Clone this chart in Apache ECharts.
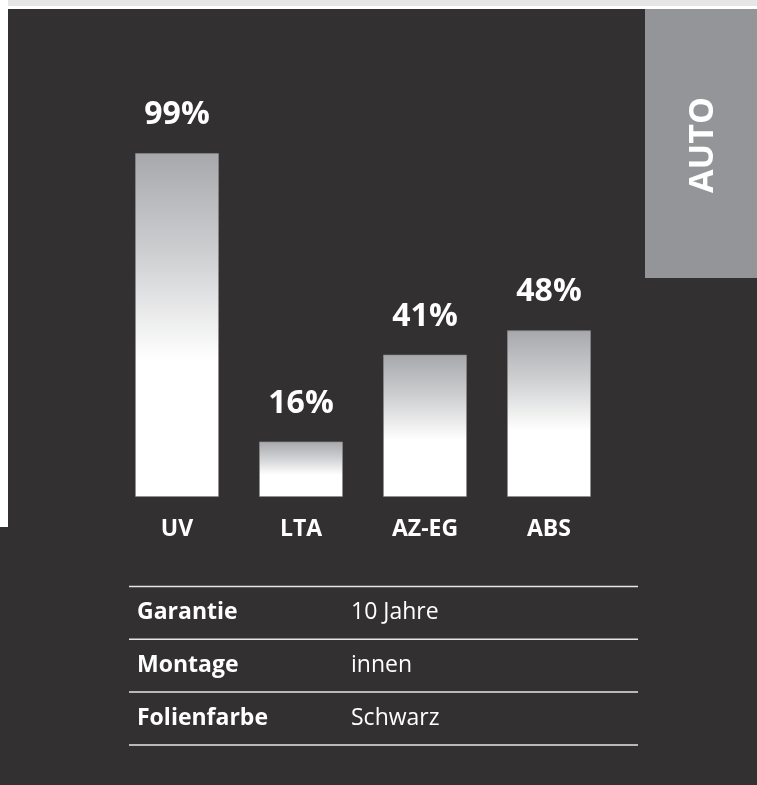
<!DOCTYPE html>
<html>
<head>
<meta charset="utf-8">
<script src="https://cdn.jsdelivr.net/npm/echarts@6/dist/echarts.min.js"></script>
<style>
html,body{margin:0;padding:0;background:#323031;}
#chart{width:757px;height:785px;}
</style>
</head>
<body>
<div id="chart"></div>
<script>
const categories = ['UV', 'LTA', 'AZ-EG', 'ABS'];
const values = [99, 16, 41, 48];
const sideLabel = 'AUTO';
const tableKeys = ['Garantie', 'Montage', 'Folienfarbe'];
const tableValues = ['10 Jahre', 'innen', 'Schwarz'];

const FONT = '"Open Sans", "DejaVu Sans", sans-serif';
const chart = echarts.init(document.getElementById('chart'), null, {renderer: 'canvas'});

// table graphics built from arrays
const tableTop = 586.5, rowH = 52.8, tableX0 = 129, tableX1 = 638;
const tableGraphics = [];
for (let i = 0; i <= tableKeys.length; i++) {
  tableGraphics.push({
    type: 'rect', silent: true,
    shape: {x: tableX0, y: tableTop + i * rowH - 0.75, width: tableX1 - tableX0, height: 1.5},
    style: {fill: '#e6e6e6'}
  });
}
tableKeys.forEach((k, i) => {
  const cy = tableTop + (i + 0.5) * rowH;
  tableGraphics.push({
    type: 'text', silent: true, x: 137, y: cy,
    style: {text: k, fill: '#ffffff', font: 'bold 23px ' + FONT, verticalAlign: 'middle', align: 'left'}
  });
  tableGraphics.push({
    type: 'text', silent: true, x: 351, y: cy,
    style: {text: tableValues[i], fill: '#ffffff', font: '23px ' + FONT, verticalAlign: 'middle', align: 'left'}
  });
});

const option = {
  backgroundColor: '#323031',
  animation: false,
  grid: {left: 115, right: 146, top: 149.5, bottom: 288, containLabel: false},
  xAxis: {
    type: 'category', data: categories,
    axisLine: {show: false}, axisTick: {show: false}, splitLine: {show: false},
    axisLabel: {color: '#ffffff', fontFamily: FONT, fontWeight: 'bold', fontSize: 23, margin: 21}
  },
  yAxis: {type: 'value', min: 0, max: 100, show: false},
  graphic: [
    {type: 'rect', silent: true, z: -10, shape: {x: 0, y: 0, width: 757, height: 6}, style: {fill: '#e6e6e6'}},
    {type: 'rect', silent: true, z: -10, shape: {x: 0, y: 6, width: 757, height: 3}, style: {fill: '#ffffff'}},
    {type: 'rect', silent: true, z: -10, shape: {x: 0, y: 0, width: 8, height: 527}, style: {fill: '#ffffff'}},
    {type: 'rect', silent: true, z: -10, shape: {x: 645, y: 9, width: 112, height: 269}, style: {fill: '#939598'}},
    {type: 'text', silent: true, x: 703, y: 145, rotation: Math.PI / 2,
     style: {text: sideLabel, fill: '#ffffff', font: 'bold 34px ' + FONT, align: 'center', verticalAlign: 'middle'}},
    ...tableGraphics
  ],
  series: [{
    type: 'bar',
    data: values,
    barWidth: 84,
    itemStyle: {
      borderColor: 'rgba(140,140,140,0.6)', borderWidth: 1,
      color: {
        type: 'linear', x: 0, y: 0, x2: 0, y2: 1,
        colorStops: [
          {offset: 0, color: '#a6a8ab'},
          {offset: 0.3, color: '#cfd0d2'},
          {offset: 0.6, color: '#ffffff'},
          {offset: 1, color: '#ffffff'}
        ]
      }
    },
    label: {
      show: true, position: 'top', distance: 22,
      formatter: '{c}%', color: '#ffffff', fontFamily: FONT, fontWeight: 'bold', fontSize: 32
    }
  }]
};
chart.setOption(option);
</script>
</body>
</html>
